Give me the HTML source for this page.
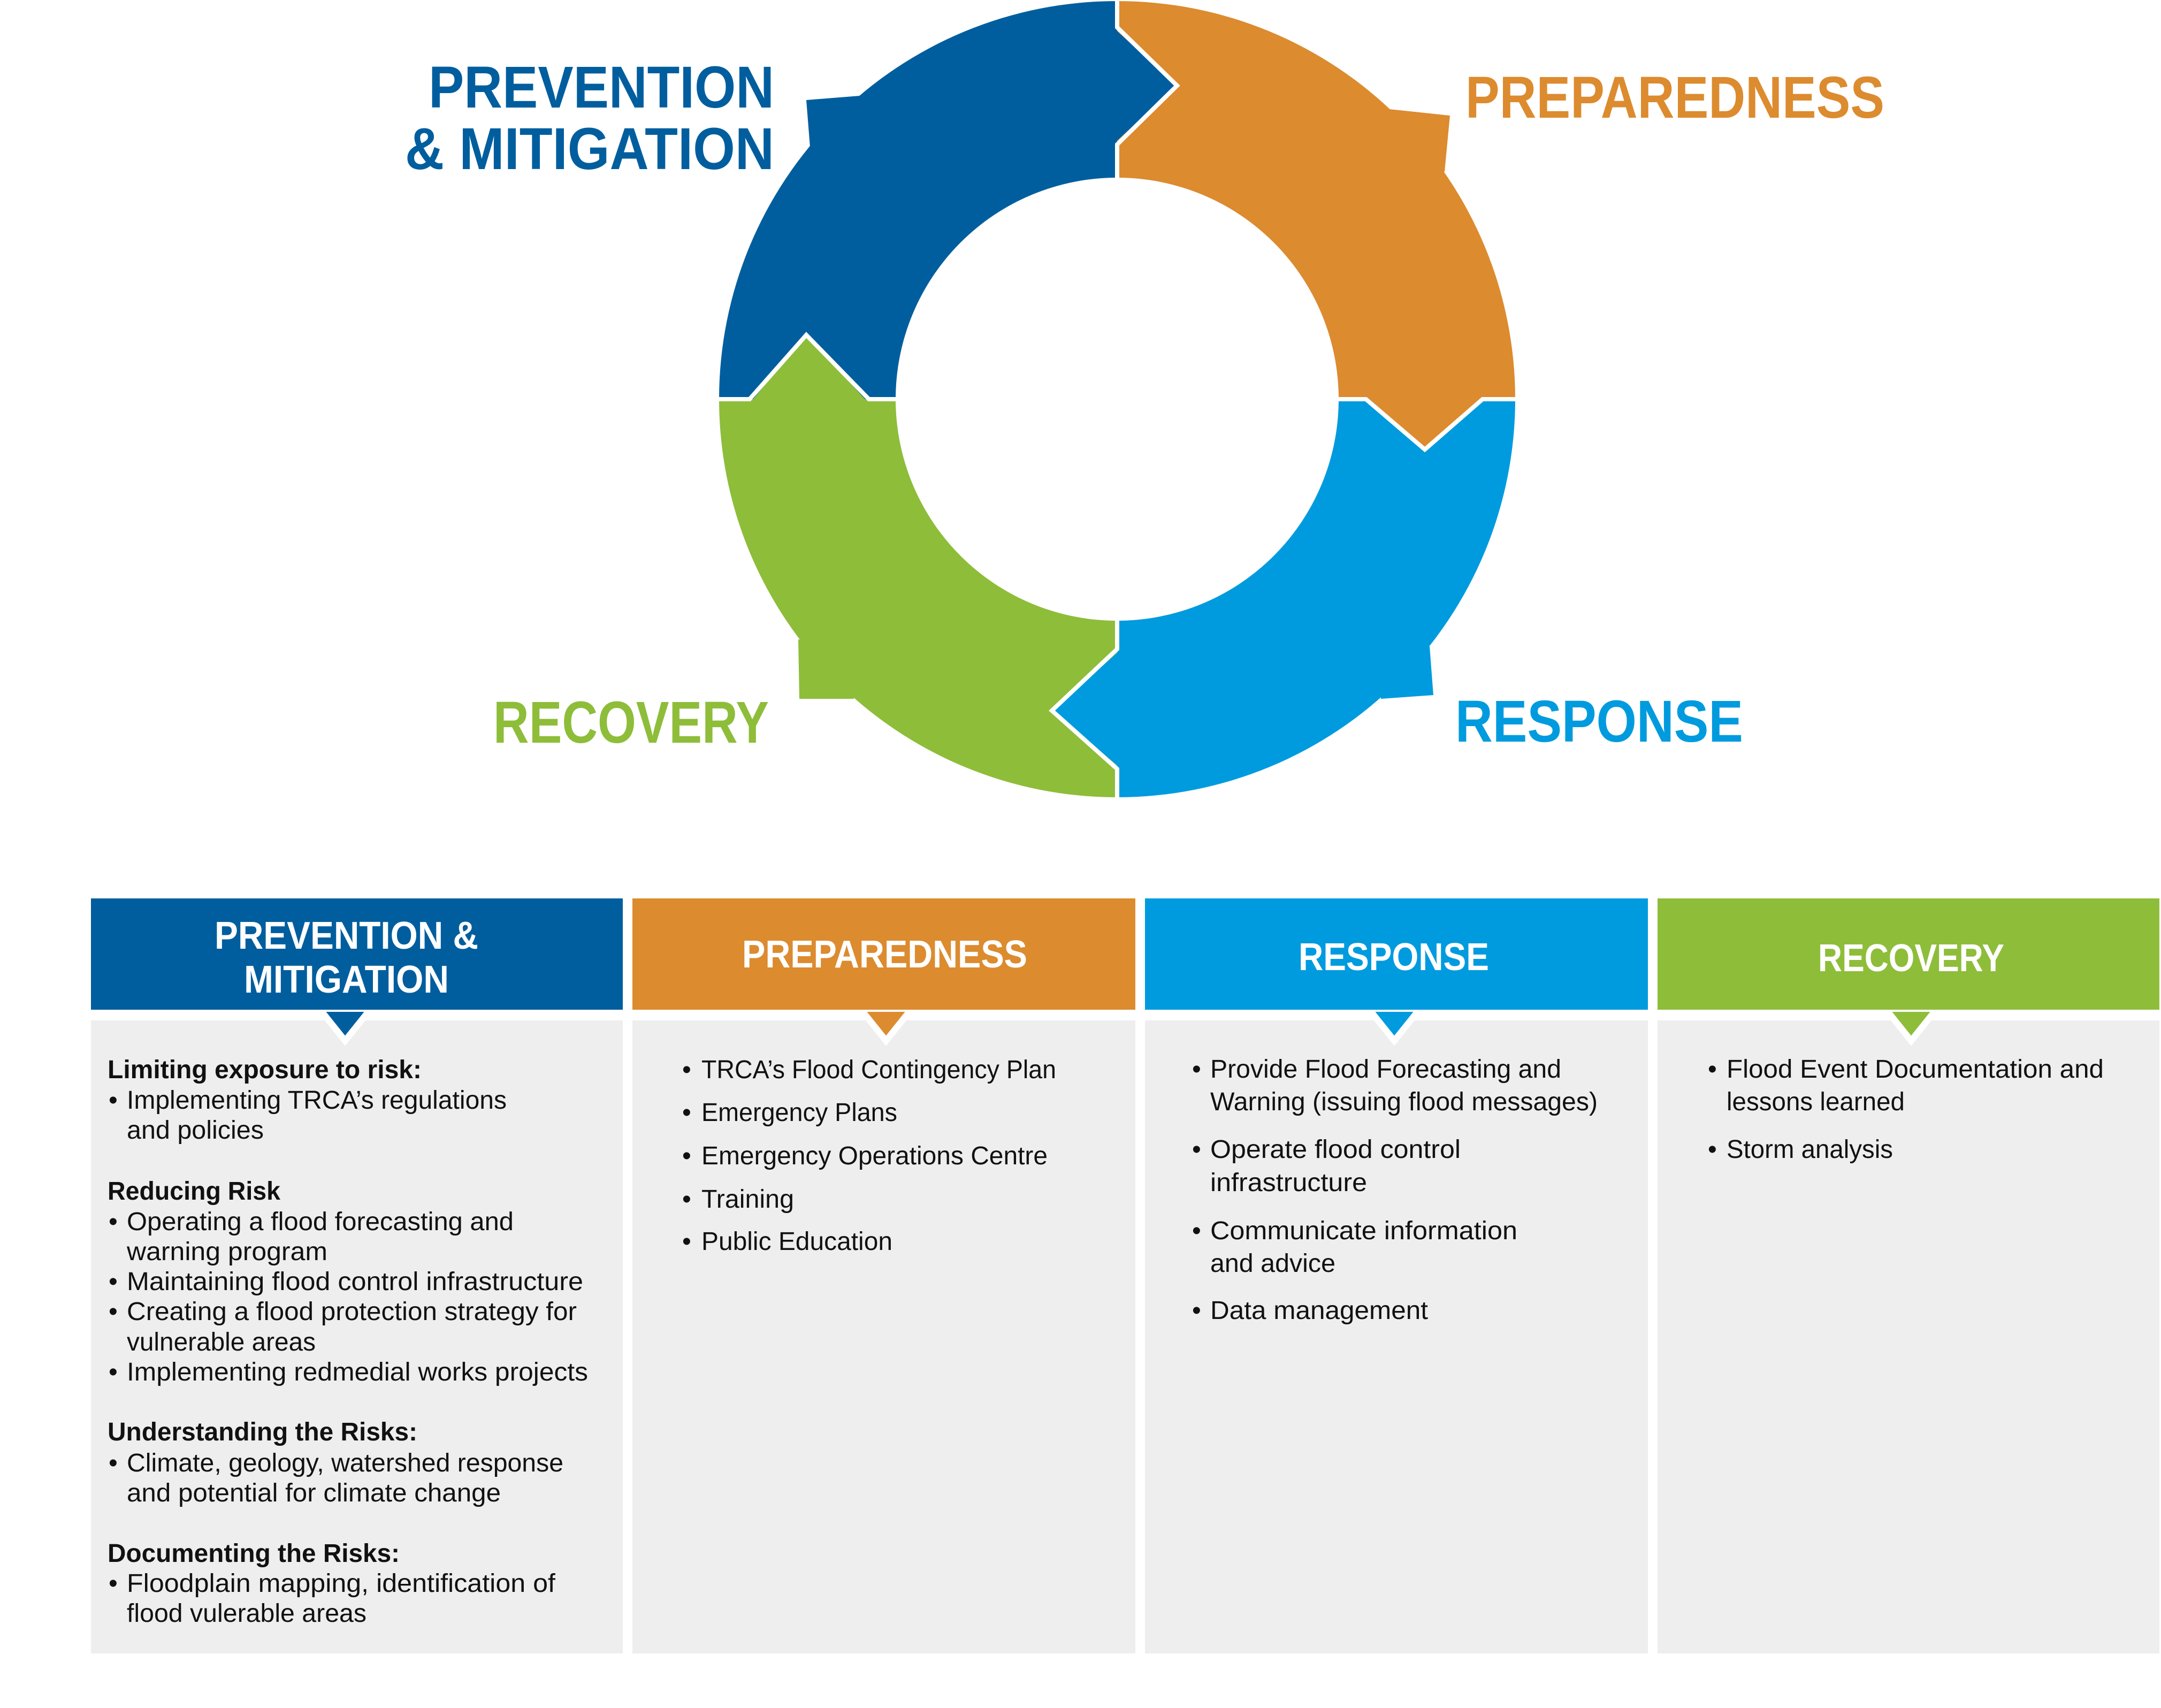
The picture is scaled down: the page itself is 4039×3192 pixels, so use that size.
<!DOCTYPE html>
<html><head><meta charset="utf-8"><style>
html,body{margin:0;padding:0;background:#fff;}
svg{display:block;}
text{font-family:"Liberation Sans",sans-serif;}
.h{font-weight:bold;fill:#fff;font-size:72px;}
.b{font-size:48px;fill:#111;}
.bb{font-size:48px;fill:#111;font-weight:bold;}
.t{font-weight:bold;font-size:110px;}
</style></head><body>
<svg width="4039" height="3192" viewBox="0 0 4039 3192" xmlns="http://www.w3.org/2000/svg">
<path d="M1344,746 A744,744 0 0 1 2088,2 L2088,332 A414,414 0 0 0 1674,746 Z" fill="#005e9e"/>
<path d="M2088,2 A744,744 0 0 1 2832,746 L2502,746 A414,414 0 0 0 2088,332 Z" fill="#dc8b2f"/>
<path d="M2832,746 A744,744 0 0 1 2088,1490 L2088,1160 A414,414 0 0 0 2502,746 Z" fill="#009bde"/>
<path d="M2088,1490 A744,744 0 0 1 1344,746 L1674,746 A414,414 0 0 0 2088,1160 Z" fill="#8ebd3a"/>
<polygon points="1607,179 1507,187 1514,275 1620,300" fill="#005e9e"/>
<polygon points="2597,204 2710,216 2700,321 2580,300" fill="#dc8b2f"/>
<polygon points="2672,1208 2679,1299 2581,1306 2570,1200" fill="#009bde"/>
<polygon points="1596,1306 1494,1306 1492,1195 1600,1200" fill="#8ebd3a"/>
<polygon points="2080,51 2200,160 2080,270" fill="#005e9e"/>
<polygon points="2553,740 2663,840 2771,740" fill="#dc8b2f"/>
<polygon points="2096,1213 1966,1328 2096,1437" fill="#009bde"/>
<polygon points="1401,754 1507,626 1624,754" fill="#8ebd3a"/>
<g fill="none" stroke="#fff" stroke-width="8" stroke-linejoin="miter">
<polyline points="2088,-5 2088,51 2200,160 2088,270 2088,340"/>
<polyline points="2495,746 2553,746 2663,840 2771,746 2840,746"/>
<polyline points="2088,1500 2088,1437 1966,1328 2088,1213 2088,1150"/>
<polyline points="1335,746 1401,746 1507,626 1624,746 1680,746"/>
</g>
<text class="t" x="801" y="201" fill="#005e9e" textLength="646" lengthAdjust="spacingAndGlyphs">PREVENTION</text>
<text class="t" x="757" y="316" fill="#005e9e" textLength="690" lengthAdjust="spacingAndGlyphs">&amp; MITIGATION</text>
<text class="t" x="2739" y="220" fill="#dc8b2f" textLength="783" lengthAdjust="spacingAndGlyphs">PREPAREDNESS</text>
<text class="t" x="922" y="1388" fill="#8ebd3a" textLength="515" lengthAdjust="spacingAndGlyphs">RECOVERY</text>
<text class="t" x="2720" y="1386" fill="#009bde" textLength="538" lengthAdjust="spacingAndGlyphs">RESPONSE</text>

<rect x="170" y="1907" width="994" height="1183" fill="#eeeeee"/>
<rect x="1182" y="1907" width="940" height="1183" fill="#eeeeee"/>
<rect x="2140" y="1907" width="940" height="1183" fill="#eeeeee"/>
<rect x="3098" y="1907" width="938" height="1183" fill="#eeeeee"/>
<g stroke="#fff" stroke-width="12" stroke-linejoin="miter">
<polygon points="597,1885 645,1945 693,1885" fill="#005e9e"/>
<polygon points="1608,1885 1656,1945 1704,1885" fill="#dc8b2f"/>
<polygon points="2558,1885 2606,1945 2654,1885" fill="#009bde"/>
<polygon points="3524,1885 3572,1945 3620,1885" fill="#8ebd3a"/>
</g>
<rect x="170" y="1679" width="994" height="208" fill="#005e9e"/>
<rect x="1182" y="1679" width="940" height="208" fill="#dc8b2f"/>
<rect x="2140" y="1679" width="940" height="208" fill="#009bde"/>
<rect x="3098" y="1679" width="938" height="208" fill="#8ebd3a"/>

<text class="h" x="401" y="1773" textLength="493" lengthAdjust="spacingAndGlyphs">PREVENTION &amp;</text>
<text class="h" x="456" y="1855" textLength="383" lengthAdjust="spacingAndGlyphs">MITIGATION</text>
<text class="h" x="1387" y="1808" textLength="533" lengthAdjust="spacingAndGlyphs">PREPAREDNESS</text>
<text class="h" x="2427" y="1813" textLength="356" lengthAdjust="spacingAndGlyphs">RESPONSE</text>
<text class="h" x="3398" y="1815" textLength="348" lengthAdjust="spacingAndGlyphs">RECOVERY</text>

<g>
<text class="bb" x="201" y="2015" textLength="587" lengthAdjust="spacingAndGlyphs">Limiting exposure to risk:</text>
<text class="b" x="203" y="2072">•</text><text class="b" x="237" y="2072" textLength="710" lengthAdjust="spacingAndGlyphs">Implementing TRCA’s regulations</text>
<text class="b" x="237" y="2128" textLength="256" lengthAdjust="spacingAndGlyphs">and policies</text>
<text class="bb" x="201" y="2242" textLength="323" lengthAdjust="spacingAndGlyphs">Reducing Risk</text>
<text class="b" x="203" y="2299">•</text><text class="b" x="237" y="2299" textLength="723" lengthAdjust="spacingAndGlyphs">Operating a flood forecasting and</text>
<text class="b" x="237" y="2355" textLength="375" lengthAdjust="spacingAndGlyphs">warning program</text>
<text class="b" x="203" y="2411">•</text><text class="b" x="237" y="2411" textLength="853" lengthAdjust="spacingAndGlyphs">Maintaining flood control infrastructure</text>
<text class="b" x="203" y="2467">•</text><text class="b" x="237" y="2467" textLength="841" lengthAdjust="spacingAndGlyphs">Creating a flood protection strategy for</text>
<text class="b" x="237" y="2524" textLength="353" lengthAdjust="spacingAndGlyphs">vulnerable areas</text>
<text class="b" x="203" y="2580">•</text><text class="b" x="237" y="2580" textLength="862" lengthAdjust="spacingAndGlyphs">Implementing redmedial works projects</text>
<text class="bb" x="201" y="2692" textLength="579" lengthAdjust="spacingAndGlyphs">Understanding the Risks:</text>
<text class="b" x="203" y="2750">•</text><text class="b" x="237" y="2750" textLength="816" lengthAdjust="spacingAndGlyphs">Climate, geology, watershed response</text>
<text class="b" x="237" y="2806" textLength="699" lengthAdjust="spacingAndGlyphs">and potential for climate change</text>
<text class="bb" x="201" y="2919" textLength="546" lengthAdjust="spacingAndGlyphs">Documenting the Risks:</text>
<text class="b" x="203" y="2975">•</text><text class="b" x="237" y="2975" textLength="801" lengthAdjust="spacingAndGlyphs">Floodplain mapping, identification of</text>
<text class="b" x="237" y="3031" textLength="448" lengthAdjust="spacingAndGlyphs">flood vulerable areas</text>
</g>
<g>
<text class="b" x="1275" y="2015">•</text><text class="b" x="1311" y="2015" textLength="663" lengthAdjust="spacingAndGlyphs">TRCA’s Flood Contingency Plan</text>
<text class="b" x="1275" y="2095">•</text><text class="b" x="1311" y="2095" textLength="366" lengthAdjust="spacingAndGlyphs">Emergency Plans</text>
<text class="b" x="1275" y="2176">•</text><text class="b" x="1311" y="2176" textLength="647" lengthAdjust="spacingAndGlyphs">Emergency Operations Centre</text>
<text class="b" x="1275" y="2257">•</text><text class="b" x="1311" y="2257" textLength="173" lengthAdjust="spacingAndGlyphs">Training</text>
<text class="b" x="1275" y="2336">•</text><text class="b" x="1311" y="2336" textLength="357" lengthAdjust="spacingAndGlyphs">Public Education</text>
</g>
<g>
<text class="b" x="2228" y="2014">•</text><text class="b" x="2262" y="2014" textLength="656" lengthAdjust="spacingAndGlyphs">Provide Flood Forecasting and</text>
<text class="b" x="2262" y="2075" textLength="724" lengthAdjust="spacingAndGlyphs">Warning (issuing flood messages)</text>
<text class="b" x="2228" y="2164">•</text><text class="b" x="2262" y="2164" textLength="468" lengthAdjust="spacingAndGlyphs">Operate flood control</text>
<text class="b" x="2262" y="2226" textLength="293" lengthAdjust="spacingAndGlyphs">infrastructure</text>
<text class="b" x="2228" y="2316">•</text><text class="b" x="2262" y="2316" textLength="574" lengthAdjust="spacingAndGlyphs">Communicate information</text>
<text class="b" x="2262" y="2377" textLength="234" lengthAdjust="spacingAndGlyphs">and advice</text>
<text class="b" x="2228" y="2465">•</text><text class="b" x="2262" y="2465" textLength="407" lengthAdjust="spacingAndGlyphs">Data management</text>
</g>
<g>
<text class="b" x="3192" y="2014">•</text><text class="b" x="3227" y="2014" textLength="705" lengthAdjust="spacingAndGlyphs">Flood Event Documentation and</text>
<text class="b" x="3227" y="2075" textLength="333" lengthAdjust="spacingAndGlyphs">lessons learned</text>
<text class="b" x="3192" y="2164">•</text><text class="b" x="3227" y="2164" textLength="311" lengthAdjust="spacingAndGlyphs">Storm analysis</text>
</g>
</svg>
</body></html>
